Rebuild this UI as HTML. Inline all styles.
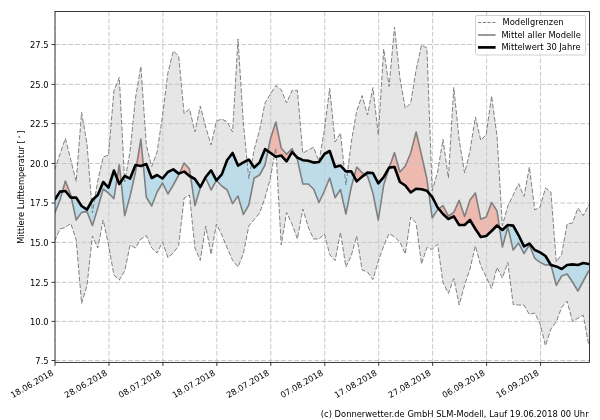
<!DOCTYPE html><html><head><meta charset="utf-8"><title>Chart</title><style>html,body{margin:0;padding:0;background:#fff}svg{display:block}text{font-family:"DejaVu Sans","Liberation Sans",sans-serif;font-size:8.33px;fill:#000}</style></head><body>
<svg width="600" height="420" viewBox="0 0 600 420">
<rect width="600" height="420" fill="#fff"/>
<defs><clipPath id="cp"><rect x="55.0" y="11.5" width="534.5" height="350.9"/></clipPath></defs>
<g clip-path="url(#cp)">
<polygon points="54.6,170.0 60.0,154.0 65.4,138.4 70.8,160.0 76.2,181.5 81.6,112.4 87.0,144.0 92.4,213.0 97.8,180.5 103.2,157.0 108.5,155.0 113.9,91.0 119.3,77.5 124.7,182.0 130.1,151.0 135.5,98.0 140.9,66.4 146.3,145.0 151.7,166.5 157.1,152.0 162.5,116.0 167.9,73.0 173.3,51.0 178.7,56.0 184.1,113.6 189.5,109.0 194.9,132.0 200.3,106.0 205.7,127.0 211.1,145.0 216.4,121.0 221.8,119.0 227.2,122.0 232.6,132.0 238.0,39.0 243.4,124.0 248.8,178.5 254.2,149.5 259.6,130.0 265.0,103.0 270.4,94.0 275.8,85.6 281.2,89.6 286.6,103.0 292.0,90.4 297.4,90.4 302.8,153.3 308.2,150.0 313.6,147.3 319.0,161.5 324.4,130.0 329.7,88.4 335.1,142.0 340.5,133.0 345.9,185.0 351.3,142.0 356.7,111.0 362.1,95.6 367.5,115.0 372.9,87.6 378.3,135.0 383.7,49.0 389.1,86.5 394.5,27.0 399.9,78.0 405.3,108.4 410.7,103.0 416.1,70.0 421.5,45.0 426.9,48.0 432.2,191.0 437.6,172.0 443.0,139.4 448.4,178.0 453.8,87.6 459.2,140.0 464.6,173.0 470.0,151.0 475.4,117.0 480.8,140.4 486.2,134.4 491.6,96.0 497.0,136.0 502.4,225.5 507.8,206.0 513.2,195.0 518.6,183.6 524.0,196.4 529.4,167.0 534.8,210.0 540.1,207.0 545.5,188.0 550.9,192.0 556.3,262.0 561.7,254.0 567.1,224.0 572.5,223.0 577.9,208.0 583.3,215.6 588.7,205.0 594.1,204.0 594.1,347.0 588.7,345.0 583.3,315.2 577.9,318.2 572.5,321.5 567.1,301.2 561.7,307.2 556.3,321.8 550.9,329.0 545.5,345.6 540.1,324.0 534.8,313.0 529.4,314.5 524.0,305.2 518.6,305.0 513.2,304.5 507.8,262.5 502.4,278.0 497.0,267.5 491.6,288.5 486.2,277.0 480.8,266.0 475.4,246.0 470.0,269.0 464.6,285.0 459.2,305.0 453.8,278.6 448.4,293.4 443.0,282.6 437.6,244.2 432.2,249.5 426.9,247.5 421.5,264.0 416.1,223.0 410.7,217.0 405.3,254.0 399.9,242.0 394.5,237.0 389.1,233.5 383.7,246.0 378.3,261.0 372.9,279.6 367.5,272.0 362.1,270.0 356.7,236.0 351.3,255.5 345.9,267.0 340.5,232.4 335.1,260.7 329.7,254.5 324.4,234.0 319.0,239.0 313.6,239.0 308.2,227.0 302.8,209.0 297.4,239.0 292.0,224.0 286.6,212.4 281.2,245.0 275.8,148.0 270.4,178.0 265.0,198.0 259.6,213.0 254.2,219.6 248.8,226.0 243.4,253.6 238.0,267.0 232.6,260.4 227.2,248.0 221.8,235.0 216.4,224.0 211.1,254.4 205.7,226.0 200.3,260.4 194.9,248.0 189.5,195.0 184.1,198.0 178.7,245.6 173.3,253.0 167.9,257.6 162.5,242.0 157.1,253.0 151.7,248.0 146.3,235.6 140.9,239.0 135.5,248.0 130.1,245.0 124.7,271.0 119.3,280.0 113.9,275.0 108.5,245.0 103.2,220.0 97.8,248.0 92.4,236.0 87.0,285.5 81.6,303.5 76.2,240.0 70.8,223.4 65.4,227.4 60.0,229.0 54.6,241.0" fill="#e6e6e6"/>
<polygon points="54.6,213.5 60.0,200.0 62.5,191.3 60.0,191.6 54.6,200.0" fill="#92d2ee" fill-opacity="0.5"/>
<polygon points="71.3,197.6 76.2,220.0 81.6,212.4 87.0,211.6 92.4,225.5 97.8,208.0 103.2,189.0 108.5,193.0 113.9,198.6 117.1,178.5 113.9,170.6 108.5,187.6 103.2,182.0 97.8,195.0 92.4,200.0 87.0,209.6 81.6,206.0 76.2,197.6" fill="#92d2ee" fill-opacity="0.5"/>
<polygon points="121.1,181.4 124.7,215.6 130.1,196.0 135.5,172.0 136.6,165.2 135.5,165.0 130.1,178.6 124.7,176.0" fill="#92d2ee" fill-opacity="0.5"/>
<polygon points="143.3,165.1 146.3,197.0 151.7,206.0 157.1,192.0 162.5,183.0 167.9,194.0 173.3,185.0 178.7,175.0 179.4,173.3 178.7,173.6 173.3,169.4 167.9,172.0 162.5,178.5 157.1,175.0 151.7,178.0 146.3,164.0" fill="#92d2ee" fill-opacity="0.5"/>
<polygon points="190.6,176.6 194.9,205.6 200.3,188.0 205.7,178.0 211.1,190.0 216.4,180.4 211.1,170.4 205.7,177.0 200.3,187.0 194.9,179.0" fill="#92d2ee" fill-opacity="0.5"/>
<polygon points="216.4,180.4 221.8,186.0 227.2,190.0 232.6,203.6 238.0,196.0 243.4,214.4 248.8,205.0 254.2,178.0 259.6,175.0 265.0,165.0 267.9,151.1 265.0,149.2 259.6,162.5 254.2,167.5 248.8,159.6 243.4,162.4 238.0,165.6 232.6,153.0 227.2,160.0 221.8,174.4" fill="#92d2ee" fill-opacity="0.5"/>
<polygon points="295.5,155.8 297.4,159.4 302.8,184.0 308.2,184.0 313.6,189.0 319.0,202.5 324.4,191.0 329.7,178.0 335.1,197.7 340.5,189.5 345.9,214.0 351.3,187.0 354.1,176.6 351.3,171.4 345.9,171.4 340.5,165.6 335.1,167.0 329.7,151.0 324.4,154.0 319.0,162.0 313.6,162.6 308.2,160.7 302.8,160.2 297.4,157.6" fill="#92d2ee" fill-opacity="0.5"/>
<polygon points="365.0,174.4 367.5,176.0 372.9,193.0 378.3,220.0 383.7,185.0 389.1,168.0 389.2,167.6 389.1,167.6 383.7,177.2 378.3,183.4 372.9,173.0 367.5,172.6" fill="#92d2ee" fill-opacity="0.5"/>
<polygon points="428.8,192.9 432.2,218.0 437.6,209.6 438.7,208.8 437.6,207.5 432.2,196.8" fill="#92d2ee" fill-opacity="0.5"/>
<polygon points="499.5,227.6 502.4,247.0 507.8,227.0 513.2,250.0 518.6,243.0 524.0,253.6 529.4,245.0 534.8,258.4 540.1,262.4 545.5,265.0 550.8,264.7 545.5,256.0 540.1,252.4 534.8,250.0 529.4,243.6 524.0,246.4 518.6,235.3 513.2,225.6 507.8,225.0 502.4,230.0" fill="#92d2ee" fill-opacity="0.5"/>
<polygon points="551.0,265.0 556.3,285.4 561.7,276.0 567.1,274.0 572.5,282.0 577.9,291.0 583.3,281.0 588.7,271.0 594.1,270.0 594.1,264.3 588.7,264.0 583.3,263.0 577.9,265.0 572.5,264.4 567.1,265.0 561.7,269.0 556.3,266.4" fill="#92d2ee" fill-opacity="0.5"/>
<polygon points="62.5,191.3 65.4,181.0 70.8,195.0 71.3,197.6 70.8,197.6 65.4,191.0" fill="#f68e7a" fill-opacity="0.5"/>
<polygon points="117.1,178.5 119.3,164.7 121.1,181.4 119.3,184.0" fill="#f68e7a" fill-opacity="0.5"/>
<polygon points="136.6,165.2 140.9,139.0 143.3,165.1 140.9,166.0" fill="#f68e7a" fill-opacity="0.5"/>
<polygon points="179.4,173.3 184.1,163.0 189.5,169.0 190.6,176.6 189.5,176.0 184.1,171.6" fill="#f68e7a" fill-opacity="0.5"/>
<polygon points="267.9,151.1 270.4,139.0 275.8,122.0 281.2,148.0 286.6,154.3 292.0,148.7 295.5,155.8 292.0,152.2 286.6,161.3 281.2,155.5 275.8,156.7 270.4,152.8" fill="#f68e7a" fill-opacity="0.5"/>
<polygon points="354.1,176.6 356.7,167.0 362.1,172.6 365.0,174.4 362.1,176.6 356.7,181.4" fill="#f68e7a" fill-opacity="0.5"/>
<polygon points="389.2,167.6 394.5,152.6 399.9,172.0 405.3,166.0 410.7,153.0 416.1,132.0 421.5,155.0 426.9,179.0 428.8,192.9 426.9,190.8 421.5,189.2 416.1,188.7 410.7,192.5 405.3,185.5 399.9,182.0 394.5,167.0" fill="#f68e7a" fill-opacity="0.5"/>
<polygon points="438.7,208.8 443.0,205.6 448.4,216.0 453.8,212.4 459.2,200.4 464.6,216.4 470.0,200.0 475.4,193.0 480.8,219.3 486.2,217.0 491.6,202.4 497.0,211.0 499.5,227.6 497.0,225.5 491.6,231.0 486.2,236.0 480.8,237.0 475.4,229.0 470.0,220.0 464.6,225.0 459.2,225.0 453.8,216.4 448.4,219.0 443.0,214.0" fill="#f68e7a" fill-opacity="0.5"/>
<polygon points="550.8,264.7 550.9,264.7 551.0,265.0 550.9,265.0" fill="#f68e7a" fill-opacity="0.5"/>
<path d="M55.00 362.4V11.5M108.95 362.4V11.5M162.90 362.4V11.5M216.85 362.4V11.5M270.80 362.4V11.5M324.75 362.4V11.5M378.70 362.4V11.5M432.65 362.4V11.5M486.60 362.4V11.5M540.55 362.4V11.5M55.0 360.50H589.5M55.0 321.40H589.5M55.0 282.30H589.5M55.0 242.40H589.5M55.0 203.00H589.5M55.0 163.50H589.5M55.0 123.60H589.5M55.0 84.40H589.5M55.0 44.50H589.5" fill="none" stroke="#c8c8c8" stroke-width="1" stroke-dasharray="4.75 1.9"/>
<polyline points="54.6,170.0 60.0,154.0 65.4,138.4 70.8,160.0 76.2,181.5 81.6,112.4 87.0,144.0 92.4,213.0 97.8,180.5 103.2,157.0 108.5,155.0 113.9,91.0 119.3,77.5 124.7,182.0 130.1,151.0 135.5,98.0 140.9,66.4 146.3,145.0 151.7,166.5 157.1,152.0 162.5,116.0 167.9,73.0 173.3,51.0 178.7,56.0 184.1,113.6 189.5,109.0 194.9,132.0 200.3,106.0 205.7,127.0 211.1,145.0 216.4,121.0 221.8,119.0 227.2,122.0 232.6,132.0 238.0,39.0 243.4,124.0 248.8,178.5 254.2,149.5 259.6,130.0 265.0,103.0 270.4,94.0 275.8,85.6 281.2,89.6 286.6,103.0 292.0,90.4 297.4,90.4 302.8,153.3 308.2,150.0 313.6,147.3 319.0,161.5 324.4,130.0 329.7,88.4 335.1,142.0 340.5,133.0 345.9,185.0 351.3,142.0 356.7,111.0 362.1,95.6 367.5,115.0 372.9,87.6 378.3,135.0 383.7,49.0 389.1,86.5 394.5,27.0 399.9,78.0 405.3,108.4 410.7,103.0 416.1,70.0 421.5,45.0 426.9,48.0 432.2,191.0 437.6,172.0 443.0,139.4 448.4,178.0 453.8,87.6 459.2,140.0 464.6,173.0 470.0,151.0 475.4,117.0 480.8,140.4 486.2,134.4 491.6,96.0 497.0,136.0 502.4,225.5 507.8,206.0 513.2,195.0 518.6,183.6 524.0,196.4 529.4,167.0 534.8,210.0 540.1,207.0 545.5,188.0 550.9,192.0 556.3,262.0 561.7,254.0 567.1,224.0 572.5,223.0 577.9,208.0 583.3,215.6 588.7,205.0 594.1,204.0" fill="none" stroke="#808080" stroke-width="1" stroke-dasharray="4.75 1.9"/>
<polyline points="54.6,241.0 60.0,229.0 65.4,227.4 70.8,223.4 76.2,240.0 81.6,303.5 87.0,285.5 92.4,236.0 97.8,248.0 103.2,220.0 108.5,245.0 113.9,275.0 119.3,280.0 124.7,271.0 130.1,245.0 135.5,248.0 140.9,239.0 146.3,235.6 151.7,248.0 157.1,253.0 162.5,242.0 167.9,257.6 173.3,253.0 178.7,245.6 184.1,198.0 189.5,195.0 194.9,248.0 200.3,260.4 205.7,226.0 211.1,254.4 216.4,224.0 221.8,235.0 227.2,248.0 232.6,260.4 238.0,267.0 243.4,253.6 248.8,226.0 254.2,219.6 259.6,213.0 265.0,198.0 270.4,178.0 275.8,148.0 281.2,245.0 286.6,212.4 292.0,224.0 297.4,239.0 302.8,209.0 308.2,227.0 313.6,239.0 319.0,239.0 324.4,234.0 329.7,254.5 335.1,260.7 340.5,232.4 345.9,267.0 351.3,255.5 356.7,236.0 362.1,270.0 367.5,272.0 372.9,279.6 378.3,261.0 383.7,246.0 389.1,233.5 394.5,237.0 399.9,242.0 405.3,254.0 410.7,217.0 416.1,223.0 421.5,264.0 426.9,247.5 432.2,249.5 437.6,244.2 443.0,282.6 448.4,293.4 453.8,278.6 459.2,305.0 464.6,285.0 470.0,269.0 475.4,246.0 480.8,266.0 486.2,277.0 491.6,288.5 497.0,267.5 502.4,278.0 507.8,262.5 513.2,304.5 518.6,305.0 524.0,305.2 529.4,314.5 534.8,313.0 540.1,324.0 545.5,345.6 550.9,329.0 556.3,321.8 561.7,307.2 567.1,301.2 572.5,321.5 577.9,318.2 583.3,315.2 588.7,345.0 594.1,347.0" fill="none" stroke="#808080" stroke-width="1" stroke-dasharray="4.75 1.9"/>
<polyline points="54.6,213.5 60.0,200.0 65.4,181.0 70.8,195.0 76.2,220.0 81.6,212.4 87.0,211.6 92.4,225.5 97.8,208.0 103.2,189.0 108.5,193.0 113.9,198.6 119.3,164.7 124.7,215.6 130.1,196.0 135.5,172.0 140.9,139.0 146.3,197.0 151.7,206.0 157.1,192.0 162.5,183.0 167.9,194.0 173.3,185.0 178.7,175.0 184.1,163.0 189.5,169.0 194.9,205.6 200.3,188.0 205.7,178.0 211.1,190.0 216.4,180.4 221.8,186.0 227.2,190.0 232.6,203.6 238.0,196.0 243.4,214.4 248.8,205.0 254.2,178.0 259.6,175.0 265.0,165.0 270.4,139.0 275.8,122.0 281.2,148.0 286.6,154.3 292.0,148.7 297.4,159.4 302.8,184.0 308.2,184.0 313.6,189.0 319.0,202.5 324.4,191.0 329.7,178.0 335.1,197.7 340.5,189.5 345.9,214.0 351.3,187.0 356.7,167.0 362.1,172.6 367.5,176.0 372.9,193.0 378.3,220.0 383.7,185.0 389.1,168.0 394.5,152.6 399.9,172.0 405.3,166.0 410.7,153.0 416.1,132.0 421.5,155.0 426.9,179.0 432.2,218.0 437.6,209.6 443.0,205.6 448.4,216.0 453.8,212.4 459.2,200.4 464.6,216.4 470.0,200.0 475.4,193.0 480.8,219.3 486.2,217.0 491.6,202.4 497.0,211.0 502.4,247.0 507.8,227.0 513.2,250.0 518.6,243.0 524.0,253.6 529.4,245.0 534.8,258.4 540.1,262.4 545.5,265.0 550.9,264.7 556.3,285.4 561.7,276.0 567.1,274.0 572.5,282.0 577.9,291.0 583.3,281.0 588.7,271.0 594.1,270.0" fill="none" stroke="#808080" stroke-width="1.6" stroke-linejoin="round"/>
<polyline points="54.6,200.0 60.0,191.6 65.4,191.0 70.8,197.6 76.2,197.6 81.6,206.0 87.0,209.6 92.4,200.0 97.8,195.0 103.2,182.0 108.5,187.6 113.9,170.6 119.3,184.0 124.7,176.0 130.1,178.6 135.5,165.0 140.9,166.0 146.3,164.0 151.7,178.0 157.1,175.0 162.5,178.5 167.9,172.0 173.3,169.4 178.7,173.6 184.1,171.6 189.5,176.0 194.9,179.0 200.3,187.0 205.7,177.0 211.1,170.4 216.4,180.4 221.8,174.4 227.2,160.0 232.6,153.0 238.0,165.6 243.4,162.4 248.8,159.6 254.2,167.5 259.6,162.5 265.0,149.2 270.4,152.8 275.8,156.7 281.2,155.5 286.6,161.3 292.0,152.2 297.4,157.6 302.8,160.2 308.2,160.7 313.6,162.6 319.0,162.0 324.4,154.0 329.7,151.0 335.1,167.0 340.5,165.6 345.9,171.4 351.3,171.4 356.7,181.4 362.1,176.6 367.5,172.6 372.9,173.0 378.3,183.4 383.7,177.2 389.1,167.6 394.5,167.0 399.9,182.0 405.3,185.5 410.7,192.5 416.1,188.7 421.5,189.2 426.9,190.8 432.2,196.8 437.6,207.5 443.0,214.0 448.4,219.0 453.8,216.4 459.2,225.0 464.6,225.0 470.0,220.0 475.4,229.0 480.8,237.0 486.2,236.0 491.6,231.0 497.0,225.5 502.4,230.0 507.8,225.0 513.2,225.6 518.6,235.3 524.0,246.4 529.4,243.6 534.8,250.0 540.1,252.4 545.5,256.0 550.9,265.0 556.3,266.4 561.7,269.0 567.1,265.0 572.5,264.4 577.9,265.0 583.3,263.0 588.7,264.0 594.1,264.3" fill="none" stroke="#000" stroke-width="2.6" stroke-linejoin="round"/>
</g>
<rect x="55.0" y="11.5" width="534.5" height="350.9" fill="none" stroke="#222" stroke-width="0.9"/>
<path d="M55.00 362.4v3.5M108.95 362.4v3.5M162.90 362.4v3.5M216.85 362.4v3.5M270.80 362.4v3.5M324.75 362.4v3.5M378.70 362.4v3.5M432.65 362.4v3.5M486.60 362.4v3.5M540.55 362.4v3.5M55.0 360.50h-3.5M55.0 321.40h-3.5M55.0 282.30h-3.5M55.0 242.40h-3.5M55.0 203.00h-3.5M55.0 163.50h-3.5M55.0 123.60h-3.5M55.0 84.40h-3.5M55.0 44.50h-3.5" fill="none" stroke="#222" stroke-width="0.9"/>
<text x="48.6" y="363.7" text-anchor="end">7.5</text>
<text x="48.6" y="324.6" text-anchor="end">10.0</text>
<text x="48.6" y="285.5" text-anchor="end">12.5</text>
<text x="48.6" y="245.6" text-anchor="end">15.0</text>
<text x="48.6" y="206.2" text-anchor="end">17.5</text>
<text x="48.6" y="166.7" text-anchor="end">20.0</text>
<text x="48.6" y="126.8" text-anchor="end">22.5</text>
<text x="48.6" y="87.6" text-anchor="end">25.0</text>
<text x="48.6" y="47.7" text-anchor="end">27.5</text>
<text transform="translate(54.0,374.5) rotate(-30)" text-anchor="end">18.06.2018</text>
<text transform="translate(107.9,374.5) rotate(-30)" text-anchor="end">28.06.2018</text>
<text transform="translate(161.9,374.5) rotate(-30)" text-anchor="end">08.07.2018</text>
<text transform="translate(215.8,374.5) rotate(-30)" text-anchor="end">18.07.2018</text>
<text transform="translate(269.8,374.5) rotate(-30)" text-anchor="end">28.07.2018</text>
<text transform="translate(323.8,374.5) rotate(-30)" text-anchor="end">07.08.2018</text>
<text transform="translate(377.7,374.5) rotate(-30)" text-anchor="end">17.08.2018</text>
<text transform="translate(431.6,374.5) rotate(-30)" text-anchor="end">27.08.2018</text>
<text transform="translate(485.6,374.5) rotate(-30)" text-anchor="end">06.09.2018</text>
<text transform="translate(539.5,374.5) rotate(-30)" text-anchor="end">16.09.2018</text>
<text transform="translate(23.9,243.8) rotate(-90)">Mittlere Lufttemperatur [<tspan dx="1.6" dy="-2.6" font-size="5.2">∘</tspan><tspan dx="1.6" dy="2.6">]</tspan></text>
<text x="588.6" y="417.3" text-anchor="end" textLength="267.8">(c) Donnerwetter.de GmbH SLM-Modell, Lauf 19.06.2018 00 Uhr</text>
<rect x="475.5" y="15.5" width="110" height="39.5" rx="1.7" fill="#fff" fill-opacity="0.8" stroke="#ccc" stroke-width="0.9"/>
<path d="M478 22.5H495.6" stroke="#808080" stroke-width="1" stroke-dasharray="3.3 1.45" fill="none"/>
<path d="M478 35H495.6" stroke="#808080" stroke-width="1.6" fill="none"/>
<path d="M478 47.4H495.6" stroke="#000" stroke-width="2.7" fill="none"/>
<text x="502.6" y="25.1">Modellgrenzen</text>
<text x="501.4" y="37.6">Mittel aller Modelle</text>
<text x="501.4" y="50">Mittelwert 30 Jahre</text>
</svg></body></html>
